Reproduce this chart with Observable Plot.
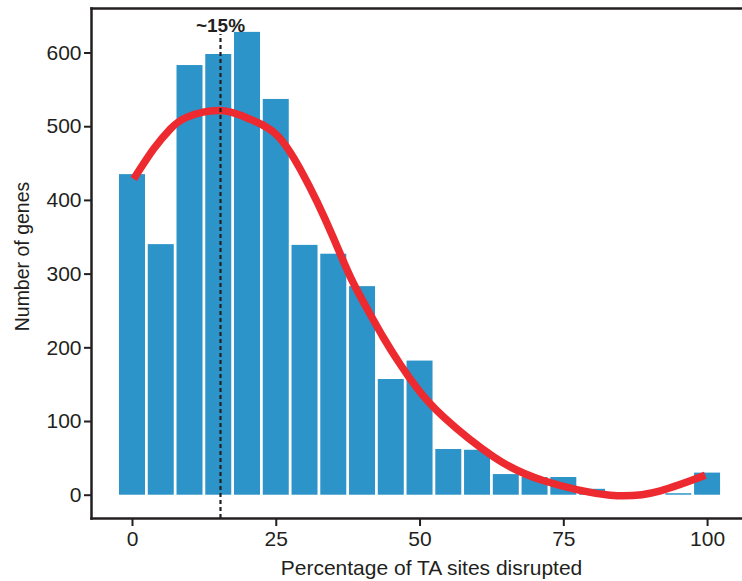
<!DOCTYPE html>
<html>
<head>
<meta charset="utf-8">
<script src="https://cdn.jsdelivr.net/npm/d3@7"></script>
<script src="https://cdn.jsdelivr.net/npm/@observablehq/plot@0.6"></script>
<style>
  html, body { margin: 0; padding: 0; background: #fff; }
  svg { display: block; }
</style>
</head>
<body>
<div id="chart"></div>
<script>
// Histogram bins (percentage of TA sites disrupted, bin centres)
const binCenters = [0, 5, 10, 15, 20, 25, 30, 35, 40, 45, 50, 55, 60, 65, 70, 75, 80, 85, 90, 95, 100];
const geneCounts = [435, 340, 583, 598, 628, 537, 339, 327, 283, 157, 182, 62, 61, 28, 24, 24, 8, 0, 0, 2, 30];

// Fitted trend curve
const curveX = [0.2, 3.7, 6.6, 9.5, 15.3, 20.5, 25.2, 29.2, 32.1, 35.0, 37.9, 40.8, 43.7, 46.6, 49.5, 54.1, 62.8, 71.4, 83.1, 91.8, 99.6];
const curveY = [429, 470, 497, 513, 522, 510, 488, 442, 398, 348, 296, 253, 213, 177, 145, 106, 52, 20, 0, 6, 27];

const peakX = 15.3;
const peakLabel = "~15%";
const xTicks = [0, 25, 50, 75, 100];
const yTicks = [0, 100, 200, 300, 400, 500, 600];
const xLabel = "Percentage of TA sites disrupted";
const yLabel = "Number of genes";

const bars = binCenters.map((x, i) => ({x, n: geneCounts[i]}));
const curve = curveX.map((x, i) => ({x, y: curveY[i]}));
const halfBar = 2.26;
const ink = "#231f20";

const chart = Plot.plot({
  width: 742,
  height: 581,
  marginLeft: 91,
  marginRight: 1,
  marginTop: 8,
  marginBottom: 63,
  style: {fontFamily: "'Liberation Sans', Arial, Helvetica, sans-serif", fontSize: "21px", color: ink},
  x: {domain: [-7.13, 105.9]},
  y: {domain: [-31.6, 660.4]},
  marks: [
    Plot.rectY(bars, {x1: d => d.x - halfBar, x2: d => d.x + halfBar, y: "n", fill: "#2c94c8"}),
    Plot.line(curve, {x: "x", y: "y", curve: "natural", stroke: "#ec2a2f", strokeWidth: 7.5, strokeLinecap: "butt"}),
    Plot.ruleX([peakX], {y1: -31.6, y2: 625, stroke: ink, strokeWidth: 2.2, strokeDasharray: "4,3"}),
    Plot.text([peakLabel], {x: peakX, frameAnchor: "top", dy: 10, fontWeight: "bold", fontSize: 19, fill: ink}),
    Plot.frame({anchor: "top", stroke: ink, strokeWidth: 2.5}),
    Plot.frame({anchor: "left", stroke: ink, strokeWidth: 2.5}),
    Plot.frame({anchor: "bottom", stroke: ink, strokeWidth: 2.5}),
    Plot.axisY({ticks: yTicks, tickSize: 7, tickPadding: 3, strokeWidth: 2, label: null, fill: ink, fontSize: 21}),
    Plot.axisX({ticks: xTicks, tickSize: 8, tickPadding: 5, strokeWidth: 2, label: null, fill: ink, fontSize: 21}),
    Plot.text([xLabel], {frameAnchor: "bottom", dx: 15, dy: 56, fill: ink, fontSize: 21}),
    Plot.text([yLabel], {frameAnchor: "left", textAnchor: "middle", dx: -69, dy: -7, rotate: -90, fill: ink, fontSize: 19.5})
  ]
});
document.getElementById("chart").appendChild(chart);
</script>
</body>
</html>
